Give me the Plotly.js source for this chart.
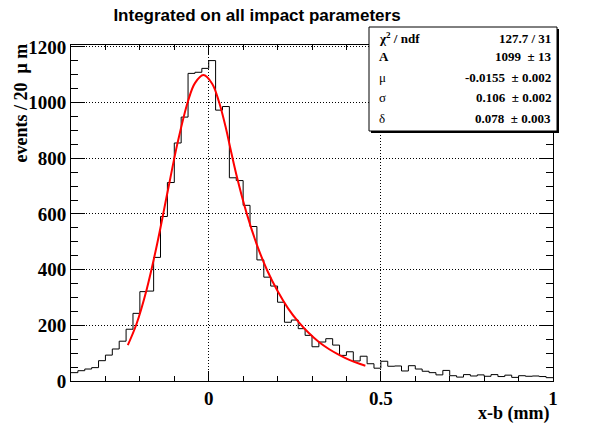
<!DOCTYPE html>
<html><head><meta charset="utf-8">
<script src="https://cdn.plot.ly/plotly-3.0.1.min.js"></script>
<style>html,body{margin:0;padding:0;background:#fff}#chart{width:594px;height:427px}</style>
</head><body><div id="chart"></div>
<script>
const chartTitle = "Integrated on all impact parameters";
const xAxisTitle = "x-b (mm)";
const yAxisTitle = "events / 20 \u00a0\u03bc m";
const xMin = -0.4, binWidth = 0.02;
const counts = [30, 37, 43, 48, 73, 93, 115, 143, 186, 243,
  321, 323, 444, 591, 713, 855, 948, 1105, 1109, 1123,
  1151, 973, 986, 730, 720, 631, 555, 435, 373, 341,
  283, 211, 219, 188, 164, 123, 140, 152, 129, 92,
  105, 72, 89, 62, 46, 71, 53, 54, 36, 55,
  43, 35, 30, 22, 38, 19, 14, 23, 18, 22,
  17, 23, 16, 21, 13, 19, 17, 18, 16, 12];
const fitX = [-0.235, -0.21, -0.18, -0.15, -0.12, -0.09, -0.06, -0.04, -0.0155, 0.01, 0.03, 0.05, 0.0625,
  0.08, 0.11, 0.14, 0.17, 0.20, 0.23, 0.26, 0.29, 0.32, 0.35, 0.38, 0.41, 0.44, 0.455];
const fitY = [129, 204, 330, 491, 676, 858, 1006, 1070, 1099, 1068, 1002, 908, 838,
  743, 603, 489, 397, 323, 262, 213, 173, 140, 114, 93, 75, 61, 55];
const xTickVals = [0, 0.5, 1];
const xTickText = ["0", "0.5", "1"];
const yTickVals = [0, 200, 400, 600, 800, 1000, 1200];
const yTickText = ["0", "200", "400", "600", "800", "1000", "1200"];
const statLabels = ["<b>\u03c7<sup>2</sup> / ndf</b>", "<b>A</b>", "\u03bc", "\u03c3", "\u03b4"];
const statValues = ["<b>127.7 / 31</b>", "<b>1099 \u00a0\u00b1 13</b>", "<b>-0.0155 \u00a0\u00b1 0.002</b>",
  "<b>0.106 \u00a0\u00b1 0.002</b>", "<b>0.078 \u00a0\u00b1 0.003</b>"];

// frame geometry (pixels)
const W = 594, H = 427, L = 71, R = 553, T = 45, B = 381;
const px = x => (x - L) / (R - L);
const py = y => (B - y) / (B - T);

const edges = [];
for (let i = 0; i <= counts.length; i++) edges.push(+(xMin + i * binWidth).toFixed(4));
const histY = counts.concat([counts[counts.length - 1]]);

const serif = "Liberation Serif, Times New Roman, serif";
const traces = [
  {x: edges, y: histY, type: 'scatter', mode: 'lines', line: {shape: 'hv', color: '#000', width: 1}, hoverinfo: 'skip'},
  {x: fitX, y: fitY, type: 'scatter', mode: 'lines', line: {shape: 'spline', color: '#ff0000', width: 2}, hoverinfo: 'skip'}
];

const rowsY = [38, 57, 77, 97, 118];
const annotations = [];
rowsY.forEach((y, i) => {
  annotations.push({xref: 'paper', yref: 'paper', x: px(377), y: py(y), xanchor: 'left', yanchor: 'middle',
    text: statLabels[i], showarrow: false, font: {family: serif, size: 13, color: '#000'}});
  annotations.push({xref: 'paper', yref: 'paper', x: px(553), y: py(y), xanchor: 'right', yanchor: 'middle',
    text: statValues[i], showarrow: false, font: {family: serif, size: 13, color: '#000'}});
});
annotations.push({xref: 'paper', yref: 'paper', x: px(551), y: py(413), xanchor: 'right', yanchor: 'middle',
  text: '<b>' + xAxisTitle + '</b>', showarrow: false, font: {family: serif, size: 18, color: '#000'}});
annotations.push({xref: 'paper', yref: 'paper', x: px(20), y: py(42), xanchor: 'center', yanchor: 'top', textangle: -90,
  text: '<b>' + yAxisTitle + '</b>', showarrow: false, font: {family: serif, size: 18, color: '#000'}});

const shapes = [
  {type: 'rect', xref: 'paper', yref: 'paper', x0: px(371), x1: px(559), y0: py(133), y1: py(29),
    line: {width: 0}, fillcolor: '#000', layer: 'above'},
  {type: 'rect', xref: 'paper', yref: 'paper', x0: px(369), x1: px(557), y0: py(131), y1: py(27),
    line: {width: 1, color: '#000'}, fillcolor: '#fff', layer: 'above'}
];

const axisCommon = {
  showline: true, linecolor: '#000', linewidth: 1, mirror: 'allticks',
  ticks: 'inside', tickcolor: '#000', tickwidth: 1,
  showgrid: true, gridcolor: '#000', griddash: '1px,2px', gridwidth: 1,
  zeroline: false, tickfont: {family: serif, size: 19, color: '#000', weight: 700},
  tickmode: 'array', fixedrange: true
};

const layout = {
  width: W, height: H,
  margin: {l: L, r: W - R, t: T, b: H - B, pad: 0},
  paper_bgcolor: '#fff', plot_bgcolor: '#fff',
  showlegend: false,
  title: {text: '<b>' + chartTitle + '</b>', x: 257 / W, xref: 'container', xanchor: 'center',
    y: 1 - 15 / H, yref: 'container', yanchor: 'middle',
    font: {family: 'Liberation Sans, Arial, sans-serif', size: 17, color: '#000'}},
  xaxis: Object.assign({}, axisCommon, {range: [-0.4, 1.0], tickvals: xTickVals, ticktext: xTickText, ticklen: 10,
    minor: {dtick: 0.1, tick0: 0, ticklen: 5, ticks: 'inside', tickcolor: '#000', showgrid: false}}),
  yaxis: Object.assign({}, axisCommon, {range: [0, 1207], tickvals: yTickVals, ticktext: yTickText, ticklen: 14,
    minor: {dtick: 50, tick0: 0, ticklen: 7, ticks: 'inside', tickcolor: '#000', showgrid: false}}),
  shapes: shapes,
  annotations: annotations
};

Plotly.newPlot('chart', traces, layout, {staticPlot: true, displayModeBar: false});
</script>
</body></html>
